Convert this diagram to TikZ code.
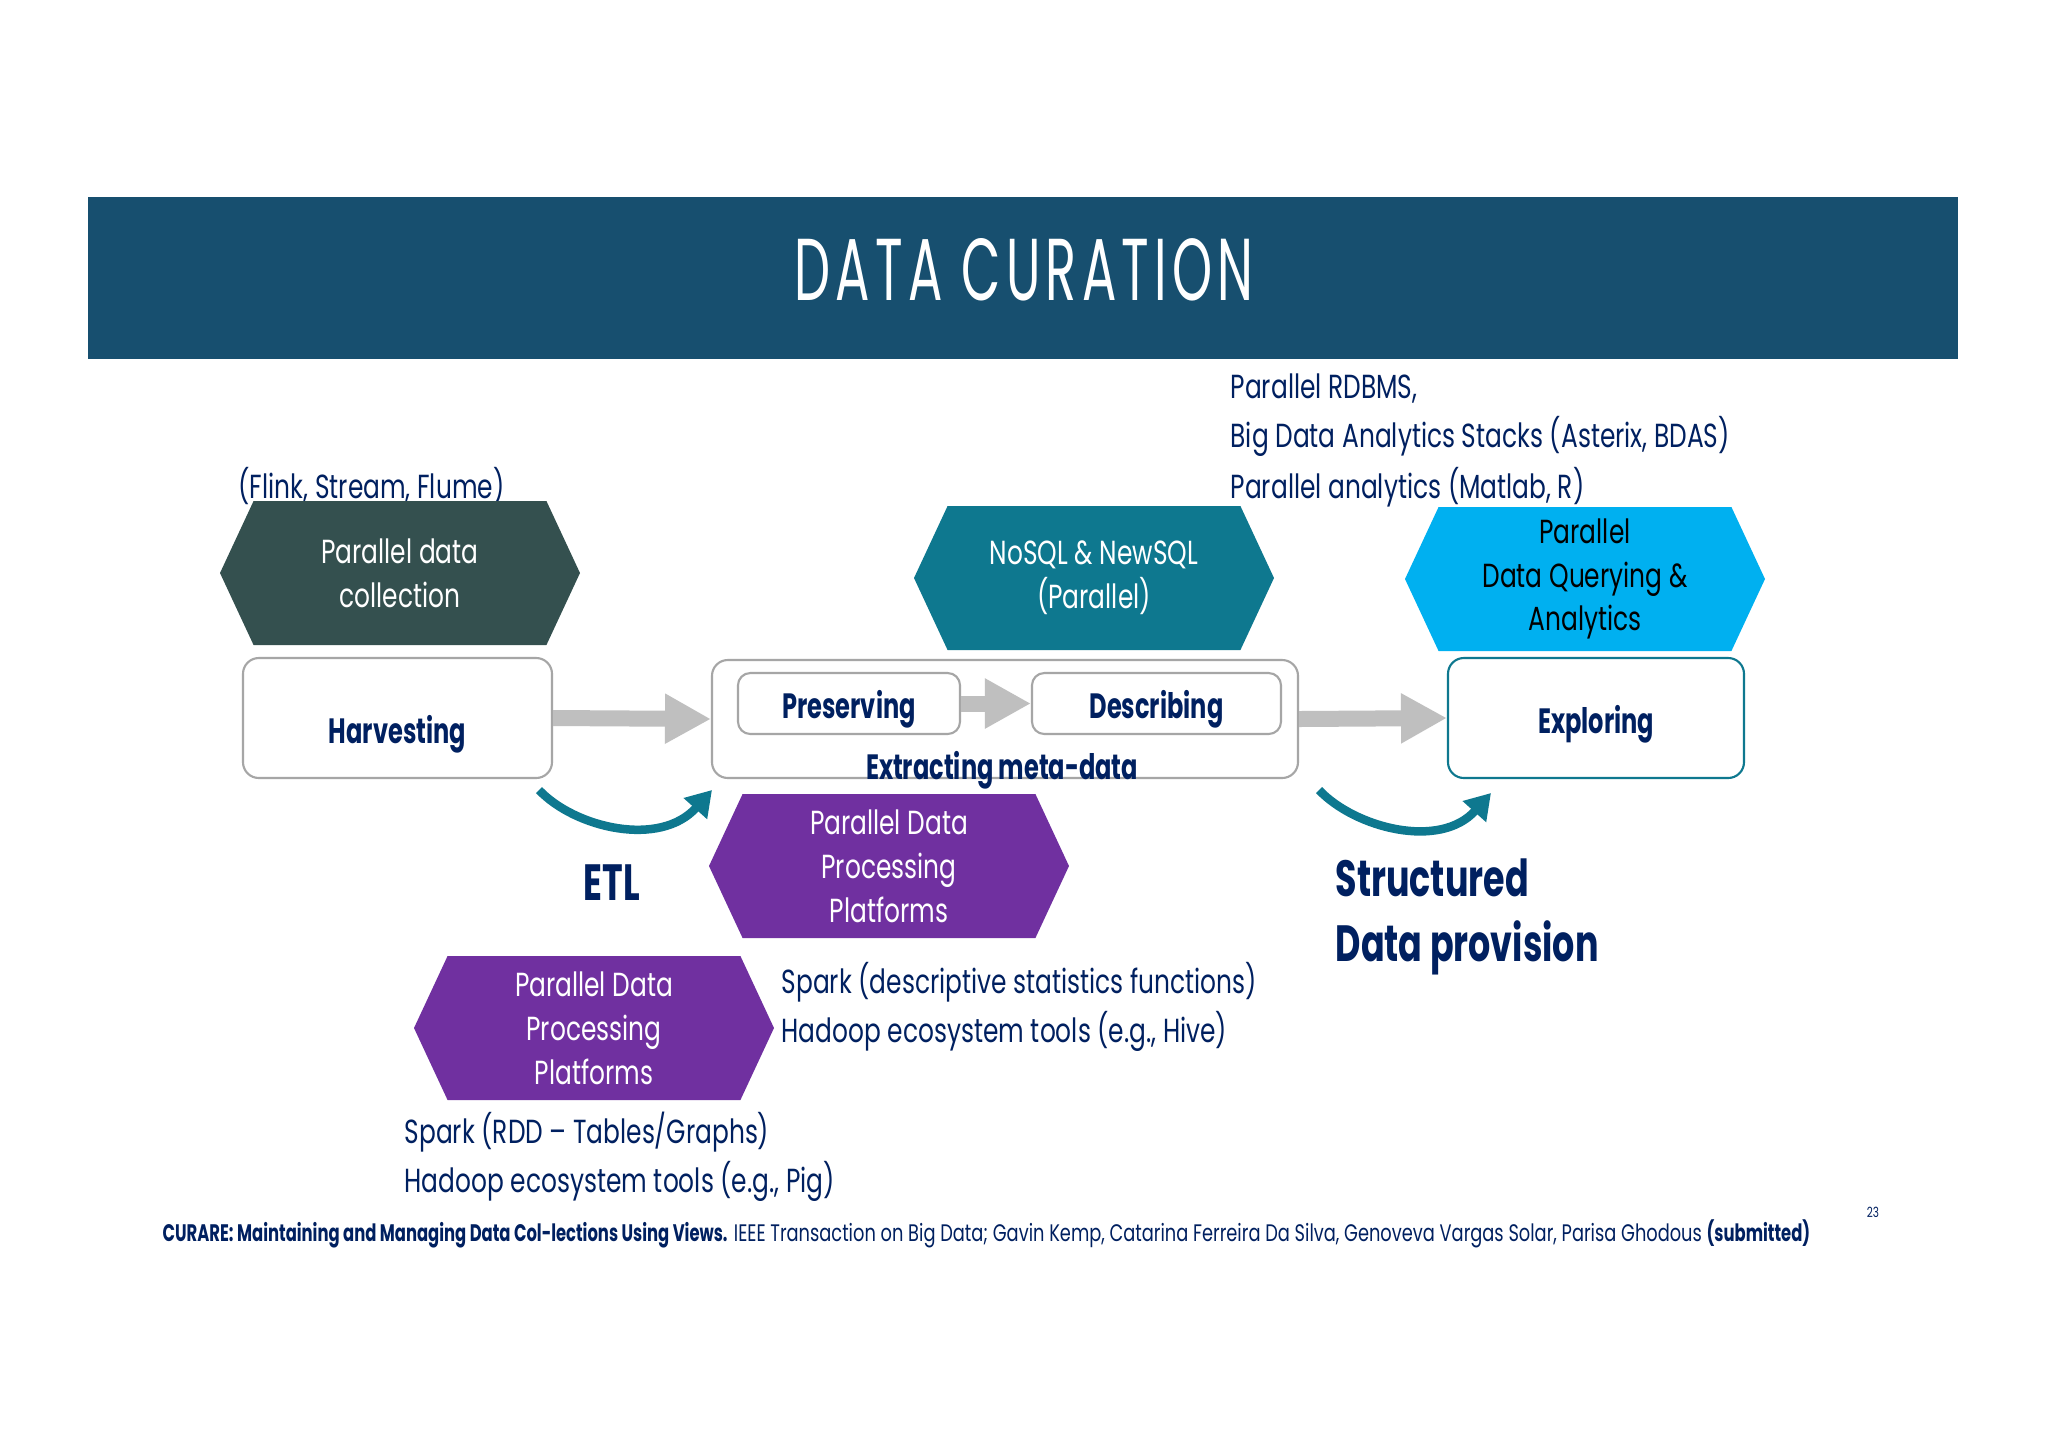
\documentclass[tikz,border=0pt]{standalone}
\usepackage{fontspec}
\setmainfont{Poppins}[FakeStretch=0.745, BoldFeatures={FakeStretch=0.685}]
\newfontfamily\titlefont{Poppins}[FakeStretch=0.58, LetterSpace=6]
\usepackage{tikz}
\usetikzlibrary{arrows.meta,positioning,shapes.symbols}
\definecolor{curBanner}{RGB}{23,79,111}
\definecolor{curNavy}{RGB}{0,32,96}
\definecolor{curGreen}{RGB}{52,80,79}
\definecolor{curTeal}{RGB}{14,120,143}
\definecolor{curSky}{RGB}{0,176,240}
\definecolor{curPurple}{RGB}{112,48,160}
\definecolor{curGray}{RGB}{191,191,191}
\definecolor{curBorder}{RGB}{166,166,166}

\begin{document}
\begin{tikzpicture}[scale=1,
  hexa/.style={shape=signal, signal to=west and east, signal pointer angle=130,
    minimum width=3.6cm, minimum height=1.44cm, inner sep=0pt, text=white,
    align=center, font=\fontsize{9.5}{12.5}\selectfont},
  stage/.style={draw=curBorder, line width=0.6pt, rounded corners=4.5pt, fill=white,
    inner sep=0pt, text=curNavy, font=\bfseries\fontsize{10}{12}\selectfont},
  flow/.style={curGray, line width=0.16cm, -{Triangle[width=0.47cm,length=0.46cm]}},
  curvearrow/.style={curTeal, line width=0.085cm, -{Triangle[width=0.3cm,length=0.25cm]}},
  note/.style={text=curNavy, anchor=base west, inner sep=0pt, font=\fontsize{9.5}{12}\selectfont},
  big/.style={text=curNavy, inner sep=0pt, font=\bfseries\fontsize{14.5}{17}\selectfont}]
\useasboundingbox (0,0) rectangle (20.48,-14.48);
\fill[white] (0,0) rectangle (20.48,-14.48);

\fill[curBanner] (0.875,-1.97) rectangle (19.58,-3.59);
\node[text=white, anchor=base, inner sep=0pt, font=\titlefont\fontsize{25}{30}\selectfont] (title) at (10.24,-3.00) {DATA CURATION};

\node[note] (rdbms1) at (12.30,-3.98) {Parallel RDBMS,};
\node[note] (rdbms2) at (12.30,-4.47) {Big Data Analytics Stacks (Asterix, BDAS)};
\node[note] (rdbms3) at (12.30,-4.98) {Parallel analytics (Matlab, R)};
\node[note] (flink) at (2.38,-4.98) {(Flink, Stream, Flume)};

\node[hexa, fill=curGreen] (collect) at (4.00,-5.73) {Parallel data\\collection};
\node[hexa, fill=curTeal] (nosql) at (10.94,-5.78) {NoSQL \& NewSQL\\(Parallel)};
\node[hexa, fill=curSky, text=black] (query) at (15.85,-5.79) {Parallel\\Data Querying \&\\Analytics};
\node[hexa, fill=curPurple] (procA) at (8.89,-8.66) {Parallel Data\\Processing\\Platforms};
\node[hexa, fill=curPurple] (procB) at (5.94,-10.28) {Parallel Data\\Processing\\Platforms};

\node[stage, minimum width=3.09cm, minimum height=1.20cm, text height=0.6cm, text depth=0.09cm] (harv) at (3.975,-7.18) {Harvesting};
\node[stage, minimum width=5.86cm, minimum height=1.18cm] (curate) at (10.05,-7.19) {};
\node[stage, minimum width=2.22cm, minimum height=0.61cm, rounded corners=3.5pt, text height=0.4cm, text depth=0.1cm] (pres) at (8.49,-7.035) {Preserving};
\node[stage, minimum width=2.49cm, minimum height=0.61cm, rounded corners=3.5pt, text height=0.4cm, text depth=0.1cm] (desc) at (11.565,-7.035) {Describing};
\node[stage, draw=curTeal, minimum width=2.96cm, minimum height=1.20cm, text height=0.4cm, text depth=0.1cm] (explore) at (15.96,-7.18) {Exploring};
\node[text=curNavy, anchor=base, inner sep=0pt, font=\bfseries\fontsize{10}{12}\selectfont] (meta) at (10.02,-7.79) {Extracting meta-data};

\draw[flow] (harv.east) -- (curate.west);
\draw[flow] (pres.east) -- (desc.west);
\draw[flow] (curate.east) -- (explore.west);

\coordinate (etlFrom) at (5.39,-7.90);
\coordinate (etlTo) at (7.12,-7.90);
\coordinate (provFrom) at (13.19,-7.90);
\coordinate (provTo) at (14.91,-7.93);
\draw[curvearrow] (etlFrom) .. controls (5.75,-8.28) and (6.60,-8.48) .. (etlTo);
\draw[curvearrow] (provFrom) .. controls (13.55,-8.28) and (14.40,-8.50) .. (provTo);

\node[big, anchor=base] (etl) at (6.12,-9.00) {ETL};
\node[big, anchor=base west] (struct) at (13.35,-8.96) {Structured};
\node[big, anchor=base west] (prov) at (13.35,-9.61) {Data provision};

\node[note] (sparkA) at (7.81,-9.93) {Spark (descriptive statistics functions)};
\node[note] (sparkB) at (7.81,-10.42) {Hadoop ecosystem tools (e.g., Hive)};
\node[note] (rddA) at (4.04,-11.43) {Spark (RDD – Tables/Graphs)};
\node[note] (rddB) at (4.04,-11.92) {Hadoop ecosystem tools (e.g., Pig)};

\node[note, font=\fontsize{6.8}{8}\selectfont] (cite) at (1.62,-12.41) {\textbf{CURARE: Maintaining and Managing Data Col-lections Using Views.} IEEE Transaction on Big Data; Gavin Kemp, Catarina Ferreira Da Silva, Genoveva Vargas Solar, Parisa Ghodous \textbf{(submitted)}};
\node[text=curNavy, inner sep=0pt, font=\fontsize{4}{5}\selectfont] (page) at (18.73,-12.12) {23};
\end{tikzpicture}
\end{document}
